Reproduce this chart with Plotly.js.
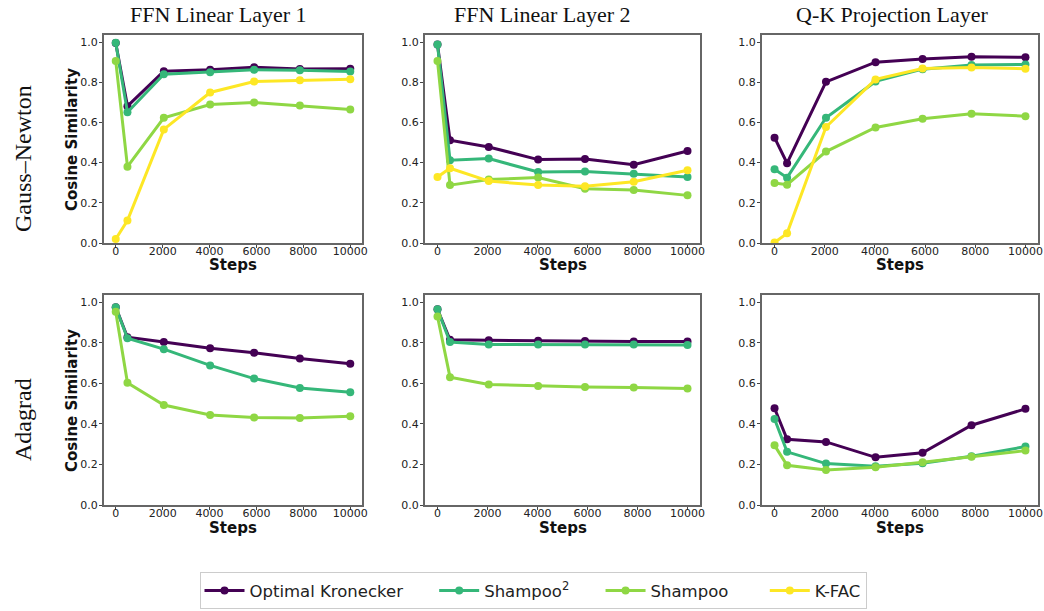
<!DOCTYPE html>
<html>
<head>
<meta charset="utf-8">
<script src="https://cdn.plot.ly/plotly-3.0.1.min.js"></script>
<style>html,body{margin:0;padding:0;background:#fff;}#chart{width:1044px;height:611px;}</style>
</head>
<body>
<div id="chart"></div>
<script>
// ---- data ----
const steps = [0, 500, 2050, 4025, 5900, 7850, 10000];
const methods = ["Optimal Kronecker", "Shampoo<sup>2</sup>", "Shampoo", "K-FAC"];
const colTitles = ["FFN Linear Layer 1", "FFN Linear Layer 2", "Q-K Projection Layer"];
const rowTitles = ["Gauss–Newton", "Adagrad"];
const xLabel = "Steps";
const yLabel = "Cosine Similarity";
const yTicks = [0, 0.2, 0.4, 0.6, 0.8, 1.0];
const xTicks = [0, 2000, 4000, 6000, 8000, 10000];

// Gauss-Newton row
const gnFfn1Opt   = [0.995, 0.681, 0.855, 0.862, 0.875, 0.866, 0.867];
const gnFfn1Sh2   = [0.997, 0.651, 0.840, 0.850, 0.862, 0.859, 0.853];
const gnFfn1Sh    = [0.906, 0.380, 0.623, 0.689, 0.699, 0.684, 0.664];
const gnFfn1Kfac  = [0.020, 0.112, 0.565, 0.749, 0.803, 0.810, 0.815];

const gnFfn2Opt   = [0.988, 0.511, 0.478, 0.415, 0.418, 0.389, 0.458];
const gnFfn2Sh2   = [0.988, 0.412, 0.420, 0.353, 0.356, 0.344, 0.329];
const gnFfn2Sh    = [0.906, 0.288, 0.316, 0.326, 0.270, 0.264, 0.237];
const gnFfn2Kfac  = [0.328, 0.372, 0.308, 0.288, 0.283, 0.305, 0.362];

const gnQkOpt     = [0.524, 0.397, 0.802, 0.900, 0.916, 0.927, 0.924];
const gnQkSh2     = [0.367, 0.325, 0.623, 0.804, 0.865, 0.886, 0.888];
const gnQkSh      = [0.298, 0.290, 0.455, 0.575, 0.618, 0.643, 0.631];
const gnQkKfac    = [0.003, 0.048, 0.577, 0.814, 0.868, 0.873, 0.867];

// Adagrad row
const adFfn1Opt   = [0.975, 0.827, 0.803, 0.773, 0.750, 0.722, 0.696];
const adFfn1Sh2   = [0.975, 0.822, 0.768, 0.688, 0.623, 0.577, 0.556];
const adFfn1Sh    = [0.952, 0.602, 0.493, 0.444, 0.431, 0.429, 0.437];

const adFfn2Opt   = [0.965, 0.814, 0.812, 0.809, 0.808, 0.806, 0.806];
const adFfn2Sh2   = [0.965, 0.803, 0.791, 0.791, 0.791, 0.791, 0.789];
const adFfn2Sh    = [0.929, 0.630, 0.594, 0.586, 0.582, 0.579, 0.574];

const adQkOpt     = [0.477, 0.324, 0.311, 0.235, 0.257, 0.393, 0.474];
const adQkSh2     = [0.424, 0.262, 0.204, 0.191, 0.206, 0.240, 0.288];
const adQkSh      = [0.294, 0.196, 0.173, 0.186, 0.211, 0.238, 0.268];

const colors = ["#440154", "#35b779", "#8fd744", "#fde725"];

// panels: [series per method] (null = not shown)
const panels = [
  [gnFfn1Opt, gnFfn1Sh2, gnFfn1Sh, gnFfn1Kfac],
  [gnFfn2Opt, gnFfn2Sh2, gnFfn2Sh, gnFfn2Kfac],
  [gnQkOpt, gnQkSh2, gnQkSh, gnQkKfac],
  [adFfn1Opt, adFfn1Sh2, adFfn1Sh, null],
  [adFfn2Opt, adFfn2Sh2, adFfn2Sh, null],
  [adQkOpt, adQkSh2, adQkSh, null]
];

const W = 1044, H = 611;
const xPix = [[104, 362], [425, 700], [762, 1038]];
const yPix = [[35, 243], [295, 505]];
const xDom = xPix.map(d => [d[0] / W, d[1] / W]);
const yDom = yPix.map(d => [1 - d[1] / H, 1 - d[0] / H]);
const titleCx = [218, 542, 892];
const legendPad = ["\u00a0\u00a0\u00a0\u00a0\u00a0", "\u00a0\u00a0\u00a0\u00a0\u00a0", "\u00a0\u00a0\u00a0\u00a0\u00a0\u00a0", ""];

const traces = [];
panels.forEach((series, p) => {
  const ax = p === 0 ? "" : String(p + 1);
  series.forEach((vals, m) => {
    if (!vals) return;
    traces.push({
      x: steps, y: vals, type: "scatter", mode: "lines+markers",
      name: methods[m] + legendPad[m], legendgroup: methods[m], showlegend: p === 0,
      line: {color: colors[m], width: 3},
      marker: {color: colors[m], size: 8},
      xaxis: "x" + ax, yaxis: "y" + ax
    });
  });
});

const layout = {
  width: W, height: H,
  margin: {l: 0, r: 0, t: 0, b: 0},
  paper_bgcolor: "#fff", plot_bgcolor: "#fff",
  font: {family: "DejaVu Sans", size: 11, color: "#222"},
  showlegend: true,
  legend: {
    orientation: "h", x: 533 / W, xanchor: "center", y: 0.003, yanchor: "bottom",
    bordercolor: "#cccccc", borderwidth: 1, bgcolor: "#fff",
    font: {family: "DejaVu Sans", size: 16.5, color: "#222"},
    itemwidth: 40
  },
  annotations: [],
  hovermode: false
};

for (let p = 0; p < 6; p++) {
  const r = Math.floor(p / 3), c = p % 3;
  const ax = p === 0 ? "" : String(p + 1);
  const axisCommon = {
    showline: true, mirror: true, linecolor: "#666", linewidth: 1.6,
    ticks: "outside", ticklen: 3.5, tickwidth: 1, tickcolor: "#444",
    showgrid: false, zeroline: false,
    tickfont: {family: "DejaVu Sans", size: 11, color: "#222"}
  };
  layout["xaxis" + ax] = Object.assign({}, axisCommon, {
    domain: xDom[c], anchor: "y" + ax, range: [-500, 10500],
    tickvals: xTicks, ticktext: xTicks.map(String), ticklabelstandoff: -6
  });
  layout["yaxis" + ax] = Object.assign({}, axisCommon, {
    domain: yDom[r], anchor: "x" + ax, range: [0, 1.035],
    tickvals: yTicks, ticktext: yTicks.map(v => v.toFixed(1)), ticklabelstandoff: -1
  });
  // x label "Steps"
  layout.annotations.push({
    text: "<b>" + xLabel + "</b>", xref: "paper", yref: "paper",
    x: (xPix[c][0] + xPix[c][1]) / 2 / W, y: 1 - (yPix[r][1] + 22.5) / H,
    xanchor: "center", yanchor: "middle", showarrow: false,
    font: {family: "DejaVu Sans", size: 15, color: "#111"}
  });
  if (c === 0) {
    layout.annotations.push({
      text: "<b>" + yLabel + "</b>", xref: "paper", yref: "paper",
      x: 72 / W, y: 1 - ((yPix[r][0] + yPix[r][1]) / 2 + 1) / H,
      xanchor: "center", yanchor: "middle", textangle: -90, showarrow: false,
      font: {family: "DejaVu Sans", size: 15, color: "#111"}
    });
  }
}

colTitles.forEach((t, c) => {
  layout.annotations.push({
    text: t, xref: "paper", yref: "paper",
    x: titleCx[c] / W, y: 1 - 14 / H, xanchor: "center", yanchor: "middle",
    showarrow: false, font: {family: "Liberation Serif", size: 22, color: "#111"}
  });
});
rowTitles.forEach((t, r) => {
  layout.annotations.push({
    text: t, xref: "paper", yref: "paper",
    x: 23 / W, y: 1 - ((yPix[r][0] + yPix[r][1]) / 2 + 20) / H, xanchor: "center", yanchor: "middle",
    textangle: -90, showarrow: false, font: {family: "Liberation Serif", size: 24, color: "#111"}
  });
});

Plotly.newPlot("chart", traces, layout, {staticPlot: true, displayModeBar: false});
</script>
</body>
</html>
